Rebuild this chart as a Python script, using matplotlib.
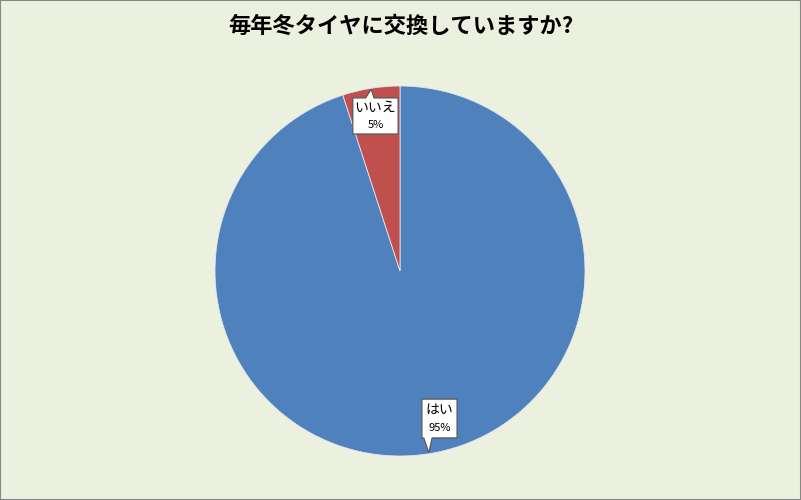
import numpy as np
import matplotlib.pyplot as plt
from matplotlib.patches import Rectangle, Polygon

plt.rcParams['font.family'] = ['Noto Sans CJK JP', 'DejaVu Sans']

title = '毎年冬タイヤに交換していますか?'
labels = ['はい', 'いいえ']
shares = [95, 5]
colors = ['#4F81BD', '#C0504D']
# callout box centre and size, in pie-radius units (layout only)
box_ctr = [(0.2135, -0.7975), (-0.1325, 0.838)]
box_size = [(0.19, 0.21), (0.245, 0.195)]

fig = plt.figure(figsize=(8.01, 5.00), dpi=100)
fig.patch.set_facecolor('#EBF1DE')
fig.patches.append(Rectangle((0, 0), 1, 1, transform=fig.transFigure, fill=False,
                             edgecolor='#868686', linewidth=1.5))

ax = fig.add_axes([215 / 801, 1 - 456 / 500, 370 / 801, 370 / 500])
wedges, _ = ax.pie(shares, colors=colors, startangle=90, counterclock=False,
                   radius=1.0, wedgeprops=dict(edgecolor='#E0E6F0', linewidth=0.6))
ax.set_xlim(-1, 1)
ax.set_ylim(-1, 1)
ax.set_aspect('equal')
ax.axis('off')


def callout(ctr, size, tip):
    cx, cy = ctr
    w, h = size
    l, r, b, t = cx - w / 2, cx + w / 2, cy - h / 2, cy + h / 2
    x0 = min(max(tip[0] - 0.03, l + 0.01), r - 0.06)
    x1 = x0 + 0.045
    if tip[1] > cy:   # pointer leaves from the top edge
        pts = [(l, b), (r, b), (r, t), (x1, t), tip, (x0, t), (l, t)]
    else:             # pointer leaves from the bottom edge
        pts = [(l, b), (x0, b), tip, (x1, b), (r, b), (r, t), (l, t)]
    return Polygon(pts, closed=True, fc='white', ec='#595959', lw=0.9,
                   joinstyle='miter', zorder=5)


for w, lab, val, ctr, size in zip(wedges, labels, shares, box_ctr, box_size):
    mid = np.deg2rad((w.theta1 + w.theta2) / 2)
    tip = (np.cos(mid) * 0.995, np.sin(mid) * 0.995)
    ax.add_patch(callout(ctr, size, tip))
    ax.text(ctr[0], ctr[1] + 0.045, lab, ha='center', va='center', fontsize=10, zorder=6)
    ax.text(ctr[0], ctr[1] - 0.05, f'{val}%', ha='center', va='center', fontsize=8,
            zorder=6)

fig.text(0.5, 1 - 26 / 500, title, ha='center', va='center', fontsize=16,
         fontweight='bold', color='black')

fig.savefig('out.png', dpi=100, facecolor=fig.get_facecolor())
